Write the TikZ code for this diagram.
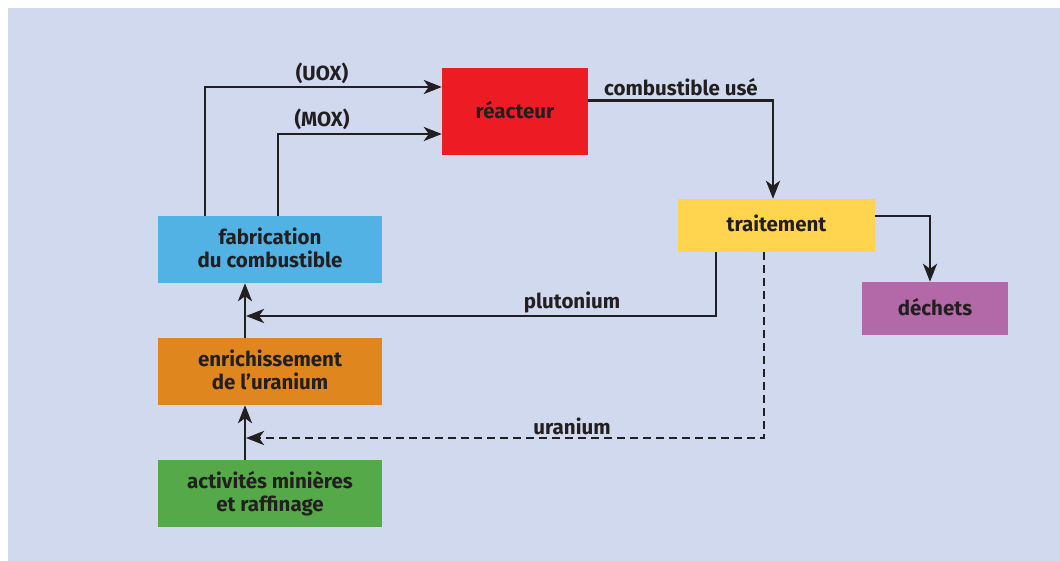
\documentclass[tikz,border=0pt]{standalone}
\usepackage{fontspec}
\setmainfont{Fira Sans}
\usetikzlibrary{arrows.meta}
\definecolor{bgc}{HTML}{D0D9EE}
\definecolor{txt}{HTML}{231F20}
\definecolor{cred}{HTML}{ED1C24}
\definecolor{cblue}{HTML}{52B2E4}
\definecolor{cyellow}{HTML}{FFD550}
\definecolor{corange}{HTML}{E0861E}
\definecolor{cgreen}{HTML}{56A948}
\definecolor{cpurple}{HTML}{B368A8}
\newcommand{\lowstrut}{\rule[-4pt]{0pt}{4pt}}
\tikzset{
  box/.style={inner sep=0pt, align=center, text=txt, font=\fontsize{20.5}{23}\selectfont\bfseries},
  arr/.style={draw=txt, line width=2.8pt, -{Stealth[length=18pt,width=14pt,inset=5pt]}},
  lbl/.style={text=txt, font=\fontsize{20.5}{22}\selectfont\bfseries, inner sep=0pt}
}
\begin{document}
\begin{tikzpicture}[x=1pt,y=-1pt]
\useasboundingbox (0,0) rectangle (1060,561);
\fill[bgc] (8,8) rectangle (1060,561);
\node[box, fill=cred, minimum width=146pt, minimum height=87pt] (reac) at (515,111.5) {réacteur\lowstrut};
\node[box, fill=cblue, minimum width=224pt, minimum height=67pt] (fab) at (270,249.5) {fabrication\\du combustible\lowstrut};
\node[box, fill=corange, minimum width=224pt, minimum height=67pt] (enr) at (270,371.5) {enrichissement\\de l’uranium\lowstrut};
\node[box, fill=cgreen, minimum width=224pt, minimum height=67pt] (act) at (270,493.5) {activités minières\\et raffinage};
\node[box, fill=cyellow, minimum width=197pt, minimum height=53pt] (trait) at (776.5,225.5) {traitement\lowstrut};
\node[box, fill=cpurple, minimum width=146pt, minimum height=53pt] (dech) at (935,308.5) {déchets\lowstrut};
\coordinate (pj) at (246,316);
\coordinate (uj) at (246,438);
\draw[arr] ([xshift=-65pt]fab.north) |- ([yshift=24.5pt]reac.west);
\draw[arr] ([xshift=8pt]fab.north) |- ([yshift=-22.5pt]reac.west);
\draw[arr] ([yshift=11pt]reac.east) -| ([xshift=-3.5pt]trait.north);
\draw[arr] ([yshift=9.5pt]trait.east) -| ([xshift=-5pt]dech.north);
\draw[arr] ([xshift=-60.5pt]trait.south) |- (pj);
\draw[arr, dash pattern=on 8pt off 5pt] ([xshift=-12.5pt]trait.south) |- (uj);
\draw[arr] ([xshift=-25pt]enr.north) -- ([xshift=-25pt]fab.south);
\draw[arr] ([xshift=-25pt]act.north) -- ([xshift=-25pt]enr.south);
\node[lbl] (luox) at (322,73) {(UOX)};
\node[lbl] (lmox) at (322,119) {(MOX)};
\node[lbl] (lcu) at (681,87) {combustible usé};
\node[lbl] (lpu) at (572,302) {plutonium};
\node[lbl] (lu) at (572,426) {uranium};
\end{tikzpicture}
\end{document}
